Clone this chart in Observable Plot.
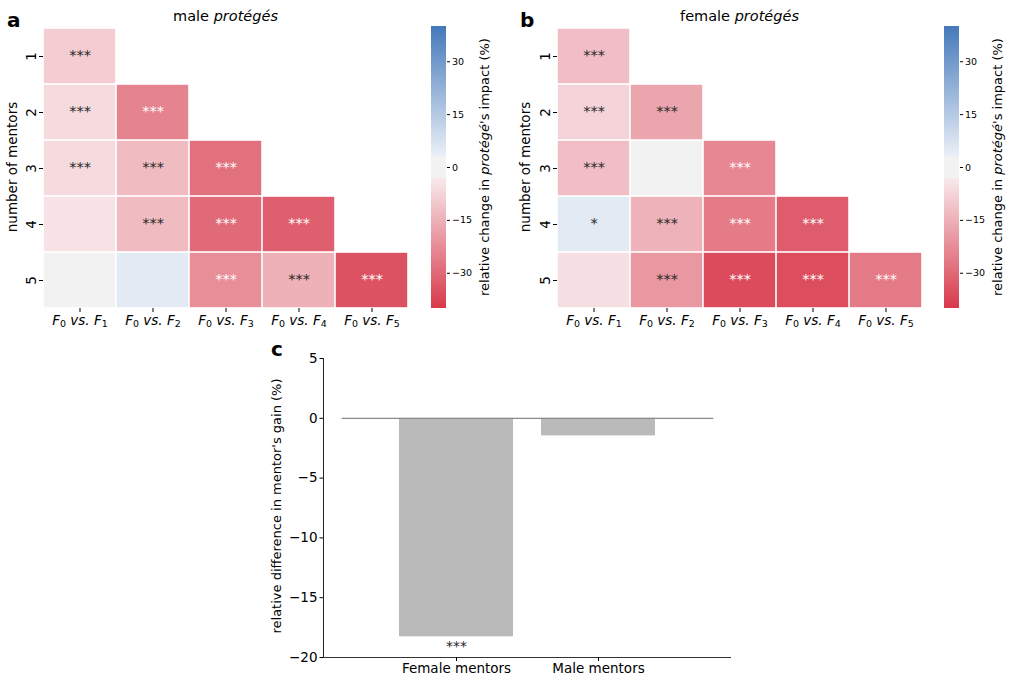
<!DOCTYPE html>
<html><head><meta charset="utf-8">
<script src="https://cdn.jsdelivr.net/npm/d3@7"></script>
<script src="https://cdn.jsdelivr.net/npm/@observablehq/plot@0.6"></script>
<style>
body{margin:0;background:#fff;font-family:"DejaVu Sans",sans-serif;}
#root{position:relative;width:1011px;height:681px;overflow:hidden;background:#fff;}
.abs{position:absolute;}
.abs svg{display:block;max-width:none;}
#overlay{position:absolute;left:0;top:0;pointer-events:none;}
</style></head><body><div id="root"></div>
<script>
// ---------- data ----------
const comparisons = ["F₀ vs. F₁", "F₀ vs. F₂", "F₀ vs. F₃", "F₀ vs. F₄", "F₀ vs. F₅"];
const mentorCounts = ["1", "2", "3", "4", "5"];
const maleValues = [
  [-9],
  [-6.3, -24.5],
  [-6.3, -12.7, -28.2],
  [-4.5, -12.7, -29.7, -32],
  [-0.5, 5, -22.2, -15, -34.8]
];
const maleStars = [
  ["***"],
  ["***", "***"],
  ["***", "***", "***"],
  ["", "***", "***", "***"],
  ["", "", "***", "***", "***"]
];
const femaleValues = [
  [-12.3],
  [-7.5, -17.5],
  [-12.3, 0, -23.7],
  [5, -14.4, -26.2, -32.6],
  [-5.3, -20.2, -36.3, -35.9, -26.4]
];
const femaleStars = [
  ["***"],
  ["***", "***"],
  ["***", "", "***"],
  ["*", "***", "***", "***"],
  ["", "***", "***", "***", "***"]
];
const colorTicks = [-30, -15, 0, 15, 30];
const mentorGroups = ["Female mentors", "Male mentors"];
const gainValues = [-18.27, -1.47];
const gainStars = ["***", ""];
const gainTicks = [5, 0, -5, -10, -15, -20];

// ---------- colour scale (diverging red - light grey - blue) ----------
const cDomain = [-40, -3, -2.9, 2.9, 3, 40];
const cRange = ["#d8394b", "#f8eaec", "#f2f2f2", "#f2f2f2", "#ebf0f7", "#4479bb"];
const colorOpts = {type: "linear", domain: cDomain, range: cRange, interpolate: "rgb", clamp: true};
const cScale = d3.scaleLinear().domain(cDomain).range(cRange).interpolate(d3.interpolateRgb).clamp(true);
function isLight(v) {
  const c = d3.rgb(cScale(v));
  const lin = x => { x /= 255; return x <= 0.03928 ? x / 12.92 : Math.pow((x + 0.055) / 1.055, 2.4); };
  return 0.2126 * lin(c.r) + 0.7152 * lin(c.g) + 0.0722 * lin(c.b) > 0.408;
}
function cells(values, stars) {
  const out = [];
  values.forEach((row, i) => row.forEach((v, j) => out.push({row: mentorCounts[i], col: comparisons[j], value: v, stars: stars[i][j]})));
  return out;
}

const root = document.getElementById("root");
function place(node, left, top) {
  const d = document.createElement("div");
  d.className = "abs"; d.style.left = left + "px"; d.style.top = top + "px";
  d.appendChild(node); root.appendChild(d);
}
const ns = "http://www.w3.org/2000/svg";

// render "F₀ vs. F₁" tick labels like math text (italic F, real subscripts)
function mathify(svg) {
  svg.querySelectorAll("text").forEach(t => {
    const m = /^F(.) vs\. F(.)$/.exec(t.textContent);
    if (!m) return;
    const sub = ch => "₀₁₂₃₄₅₆₇₈₉".indexOf(ch);
    t.textContent = "";
    const add = (s, opts = {}) => {
      const ts = document.createElementNS(ns, "tspan");
      ts.textContent = s;
      if (opts.italic) ts.setAttribute("font-style", "italic");
      if (opts.sub) { ts.setAttribute("font-size", "70%"); ts.setAttribute("dy", "0.25em"); }
      if (opts.up) ts.setAttribute("dy", "-0.175em");
      t.appendChild(ts);
    };
    t.setAttribute("font-style", "normal");
    add("F", {italic: true});
    add(String(sub(m[1])), {sub: true});
    add(" vs. F", {italic: true, up: true});
    add(String(sub(m[2])), {sub: true});
  });
}

function heatmap(data) {
  const svg = Plot.plot({
    width: 420, height: 340, marginLeft: 43, marginRight: 12, marginTop: 27, marginBottom: 32,
    style: {fontFamily: "DejaVu Sans", fontSize: "13px", background: "transparent", color: "#000"},
    x: {domain: comparisons, padding: 0},
    y: {domain: mentorCounts, padding: 0},
    color: colorOpts,
    marks: [
      Plot.cell(data, {x: "col", y: "row", fill: "value", inset: 0.8}),
      Plot.text(data.filter(d => d.stars && isLight(d.value)), {x: "col", y: "row", text: "stars", fill: "#262626", fontSize: 14.5, dy: -1}),
      Plot.text(data.filter(d => d.stars && !isLight(d.value)), {x: "col", y: "row", text: "stars", fill: "#ffffff", fontSize: 14.5, dy: -1}),
      Plot.axisX({anchor: "bottom", tickSize: 4, tickPadding: 3, fontSize: 13.5, label: null}),
      Plot.axisY({anchor: "left", tickSize: 4, tickPadding: 4, tickRotate: -90, fontSize: 13.5, label: null})
    ]
  });
  mathify(svg);
  return svg;
}

function colorbar() {
  const ramp = d3.range(-40, 40, 0.25).map(v => ({lo: v, hi: v + 0.25, mid: v + 0.125}));
  return Plot.plot({
    width: 90, height: 340, marginTop: 26, marginBottom: 32, marginLeft: 11, marginRight: 64,
    style: {fontFamily: "DejaVu Sans", background: "transparent", color: "#000"},
    x: {domain: [0, 1], axis: null},
    y: {domain: [-40, 40]},
    color: colorOpts,
    marks: [
      Plot.rect(ramp, {x1: () => 0, x2: () => 1, y1: "lo", y2: "hi", fill: "mid", shapeRendering: "crispEdges"}),
      Plot.axisY({anchor: "right", ticks: colorTicks, tickSize: 3, tickPadding: 2.5, fontSize: 9.5, label: null})
    ]
  });
}

const maleData = cells(maleValues, maleStars);
const femaleData = cells(femaleValues, femaleStars);
place(heatmap(maleData), 0, 0);
place(colorbar(), 420, 0);
place(heatmap(femaleData), 514, 0);
place(colorbar(), 933, 0);

const barData = mentorGroups.map((g, i) => ({group: g, value: gainValues[i], stars: gainStars[i]}));
const barPlot = Plot.plot({
  width: 500, height: 341, marginLeft: 73, marginRight: 19, marginTop: 18, marginBottom: 24,
  style: {fontFamily: "DejaVu Sans", fontSize: "13px", background: "transparent", color: "#000"},
  x: {domain: mentorGroups, paddingInner: 0.2, paddingOuter: 0.5366},
  y: {domain: [-20, 5]},
  marks: [
    Plot.barY(barData, {x: "group", y: "value", fill: "#bababa"}),
    Plot.ruleY([0], {stroke: "#8a8a8a", strokeWidth: 1.3, insetLeft: 18.7, insetRight: 17.7}),
    Plot.text(barData.filter(d => d.stars), {x: "group", y: "value", text: "stars", dy: 10, fontSize: 14, fill: "#262626"}),
    Plot.ruleY([-20], {stroke: "#333", strokeWidth: 1}),
    Plot.frame({anchor: "left", stroke: "#222", strokeWidth: 1}),
    Plot.axisX({anchor: "bottom", tickSize: 4, tickPadding: 2, fontSize: 13.5, label: null}),
    Plot.axisY({anchor: "left", ticks: gainTicks, tickSize: 3.5, tickPadding: 2.5, fontSize: 13.5, label: null})
  ]
});
place(barPlot, 250, 340);

// ---------- overlay texts (titles, panel letters, axis labels) ----------
const ov = document.createElementNS(ns, "svg");
ov.setAttribute("id", "overlay"); ov.setAttribute("width", 1011); ov.setAttribute("height", 681);
ov.style.fontFamily = "DejaVu Sans";
root.appendChild(ov);
function txt(parts, x, y, opts = {}) {
  const t = document.createElementNS(ns, "text");
  t.setAttribute("x", x); t.setAttribute("y", y);
  t.setAttribute("font-size", opts.size || 13);
  t.setAttribute("text-anchor", opts.anchor || "middle");
  if (opts.weight) t.setAttribute("font-weight", opts.weight);
  if (opts.rotate) t.setAttribute("transform", `rotate(${opts.rotate},${x},${y})`);
  t.setAttribute("fill", "#000");
  for (const p of parts) {
    const s = document.createElementNS(ns, "tspan");
    s.textContent = typeof p === "string" ? p : p.i;
    if (typeof p !== "string") s.setAttribute("font-style", "italic");
    t.appendChild(s);
  }
  ov.appendChild(t);
}
txt(["a"], 7, 27, {size: 20, weight: "bold", anchor: "start"});
txt(["b"], 520, 27, {size: 20, weight: "bold", anchor: "start"});
txt(["c"], 271, 356, {size: 20, weight: "bold", anchor: "start"});
txt(["male ", {i: "protégés"}], 225.5, 20.5, {size: 14.5});
txt(["female ", {i: "protégés"}], 739.5, 20.5, {size: 14.5});
txt(["number of mentors"], 17, 167, {size: 13.5, rotate: -90});
txt(["number of mentors"], 530, 167, {size: 13.5, rotate: -90});
txt(["relative change in ", {i: "protégé"}, "'s impact (%)"], 489, 167, {size: 13, rotate: -90});
txt(["relative change in ", {i: "protégé"}, "'s impact (%)"], 1002, 167, {size: 13, rotate: -90});
txt(["relative difference in mentor's gain (%)"], 281, 506, {size: 13, rotate: -90});
</script></body></html>
